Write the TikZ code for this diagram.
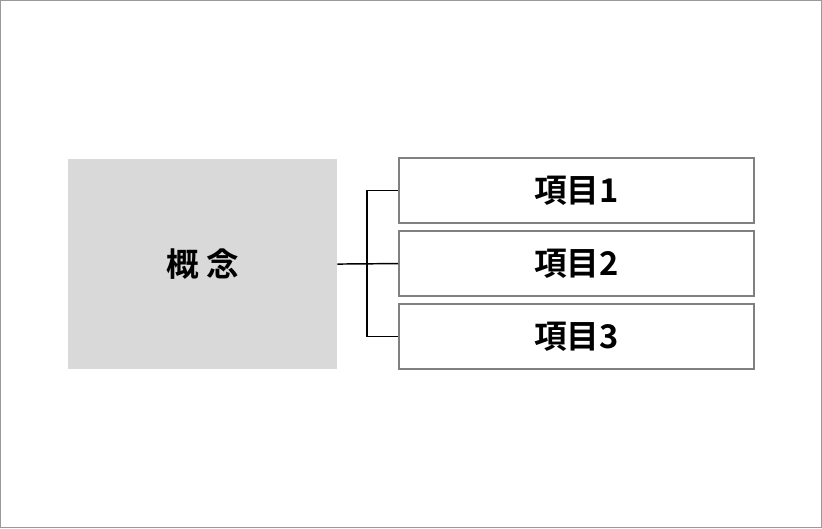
\documentclass[tikz,border=0pt]{standalone}
\usepackage{fontspec}
\setmainfont{Noto Sans CJK JP}[BoldFont={Noto Sans CJK JP Bold}]
\begin{document}
\begin{tikzpicture}[x=0.75pt,y=-0.75pt,
  concept/.style={fill=black!15,draw=none,minimum width=269*0.75pt,minimum height=210*0.75pt,inner sep=0pt,font=\bfseries\fontsize{24.5}{28}\selectfont},
  item/.style={draw=black!50,line width=1.2pt,fill=white,minimum width=355*0.75pt,minimum height=65*0.75pt,inner sep=0pt,font=\bfseries\fontsize{24.5}{28}\selectfont},
  conn/.style={draw=black,line width=1.1pt}]
\draw[draw=black!40,line width=1pt,fill=white] (0.5,0.5) rectangle (821.5,527.5);
\useasboundingbox (0,0) rectangle (822,528);
\node[concept] (c) at (202.5,264) {概 念};
\node[item] (i1) at (576.5,190.5) {項目1};
\node[item] (i2) at (576.5,263.5) {項目2};
\node[item] (i3) at (576.5,336.5) {項目3};
\coordinate (j) at (367,264);
\draw[conn] (c.east) -- (i2.west);
\draw[conn] (i1.west) -| (j) |- (i3.west);
\end{tikzpicture}
\end{document}
